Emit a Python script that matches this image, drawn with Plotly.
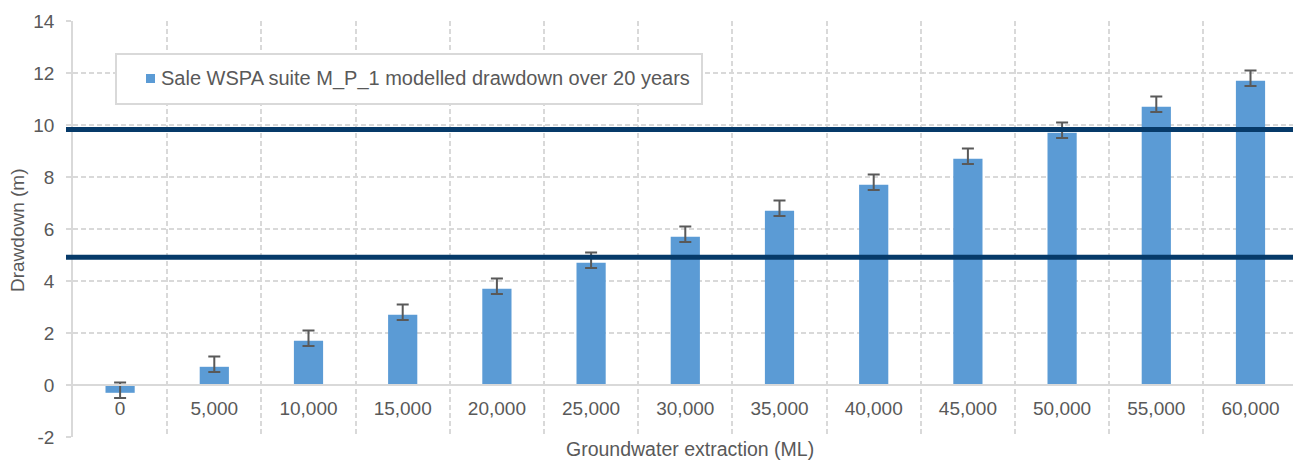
import plotly.graph_objects as go

# Groundwater extraction scenarios (ML) and modelled drawdown (m)
extraction = ["0", "5,000", "10,000", "15,000", "20,000", "25,000", "30,000",
              "35,000", "40,000", "45,000", "50,000", "55,000", "60,000"]
drawdown = [-0.3, 0.7, 1.7, 2.7, 3.7, 4.7, 5.7, 6.7, 7.7, 8.7, 9.7, 10.7, 11.7]
err_plus = [0.4] * len(drawdown)
err_minus = [0.2] * len(drawdown)

# Y axis ticks (plain hyphen for negatives)
y_ticks = [-2, 0, 2, 4, 6, 8, 10, 12, 14]
y_tick_text = ["-2", "0", "2", "4", "6", "8", "10", "12", "14"]

# Reference drawdown levels (m)
thresholds = [9.83, 4.91]

series_name = "Sale WSPA suite M_P_1 modelled drawdown over 20 years"

FONT = "Liberation Sans, Arial, sans-serif"
TXT = "#595959"
GRID = "#d9d9d9"
BAR = "#5b9bd5"
NAVY = "#063a69"

W, H = 1293, 461
ML, MR, MT, MB = 73, 0, 21, 24
PW = W - ML - MR
PH = H - MT - MB


def px_x(px):
    return (px - ML) / PW


def px_y(py):
    return (H - MB - py) / PH


fig = go.Figure()
fig.add_trace(go.Bar(
    x=extraction,
    y=drawdown,
    name=series_name,
    marker=dict(color=BAR, line=dict(width=0)),
    width=0.31,
    error_y=dict(type="data", symmetric=False, array=err_plus,
                 arrayminus=err_minus, color="#595959", thickness=2, width=6),
    showlegend=False,
))

shapes = []
for t in thresholds:
    shapes.append(dict(type="line", xref="paper", yref="y",
                       x0=px_x(66), x1=1.0, y0=t, y1=t,
                       line=dict(color=NAVY, width=5), layer="above"))

# Legend box
shapes.append(dict(type="rect", xref="paper", yref="paper",
                   x0=px_x(116), x1=px_x(702), y0=px_y(104), y1=px_y(54),
                   line=dict(color=GRID, width=2), fillcolor="white", layer="above"))
shapes.append(dict(type="rect", xref="paper", yref="paper",
                   x0=px_x(146), x1=px_x(155), y0=px_y(83), y1=px_y(74),
                   line=dict(width=0), fillcolor=BAR, layer="above"))

annotations = [
    dict(text=series_name, xref="paper", yref="paper", x=px_x(159), y=px_y(79),
         xanchor="left", yanchor="middle", showarrow=False,
         font=dict(family=FONT, size=20, color=TXT)),
    dict(text="Groundwater extraction (ML)", xref="paper", yref="paper",
         x=px_x(690), y=px_y(449), xanchor="center", yanchor="middle",
         showarrow=False, font=dict(family=FONT, size=19.5, color=TXT)),
    dict(text="Drawdown (m)", xref="paper", yref="paper",
         x=px_x(17), y=px_y(230), xanchor="center", yanchor="middle",
         textangle=-90, showarrow=False,
         font=dict(family=FONT, size=19, color=TXT)),
]

fig.update_layout(
    width=W, height=H,
    margin=dict(l=ML, r=MR, t=MT, b=MB, pad=0),
    paper_bgcolor="white", plot_bgcolor="white",
    font=dict(family=FONT, size=19, color=TXT),
    shapes=shapes,
    annotations=annotations,
    xaxis=dict(
        type="category",
        range=[-0.5, -0.5 + PW / 94.2],
        tickson="boundaries",
        showgrid=True, gridcolor=GRID, gridwidth=1.5, griddash="5px,3px",
        showline=True, linecolor=GRID, linewidth=1.5,
        anchor="free", position=2 / 16,
        ticks="", ticklabelstandoff=6,
        tickfont=dict(family=FONT, size=19, color=TXT),
        zeroline=False,
    ),
    yaxis=dict(
        range=[-2, 14],
        tickmode="array", tickvals=y_ticks, ticktext=y_tick_text,
        showgrid=True, gridcolor=GRID, gridwidth=1.5, griddash="5px,3px",
        zeroline=True, zerolinecolor=GRID, zerolinewidth=1.5,
        showline=True, linecolor=GRID, linewidth=1.5,
        ticks="outside", ticklen=5, tickcolor=GRID, tickwidth=1.5,
        ticklabelstandoff=8,
        tickfont=dict(family=FONT, size=19, color=TXT),
    ),
)

fig.write_html("out.html")
